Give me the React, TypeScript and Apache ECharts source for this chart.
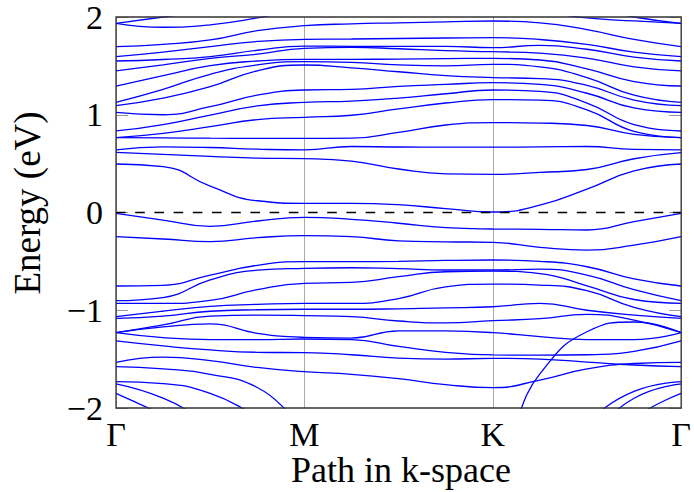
import React, { useEffect, useRef } from "react";
import * as echarts from "echarts";

// k-path sample positions (Γ=0, M=1, K=2, Γ=3)
const kPath = [0, 0.25, 0.5, 0.75, 1, 1.25, 1.5, 1.75, 2, 2.25, 2.5, 2.75, 3];
const kLabels = ["Γ", "M", "K", "Γ"];
const energyTicks = [-2, -1, 0, 1, 2];

// conduction-side bands (eV)
const bandU01 = [1.935, 2.0, 2.06, 2.15, 2.2, 2.25, 2.3, 2.3, 2.25, 2.2, 2.1, 2.0, 1.935];
const bandU02 = [1.935, 1.895, 1.92, 1.99, 2.08, 2.1, 2.15, 2.15, 2.15, 2.06, 1.99, 1.96, 1.935];
const bandU03 = [1.697, 1.72, 1.765, 1.86, 1.911, 1.93, 1.94, 1.95, 1.959, 1.94, 1.87, 1.77, 1.697];
const bandU04 = [1.594, 1.64, 1.697, 1.75, 1.772, 1.775, 1.78, 1.785, 1.788, 1.77, 1.72, 1.64, 1.594];
const bandU05 = [1.55, 1.565, 1.594, 1.66, 1.703, 1.7, 1.7, 1.7, 1.686, 1.71, 1.67, 1.59, 1.55];
const bandU06 = [1.448, 1.51, 1.577, 1.62, 1.68, 1.69, 1.675, 1.655, 1.645, 1.63, 1.58, 1.49, 1.448];
const bandU07 = [1.294, 1.4, 1.502, 1.55, 1.567, 1.567, 1.57, 1.575, 1.577, 1.56, 1.47, 1.34, 1.294];
const bandU08 = [1.127, 1.26, 1.414, 1.51, 1.543, 1.535, 1.51, 1.5, 1.516, 1.49, 1.38, 1.2, 1.127];
const bandU09 = [1.093, 1.17, 1.287, 1.45, 1.509, 1.48, 1.44, 1.4, 1.38, 1.37, 1.3, 1.15, 1.093];
const bandU10 = [1.025, 1.0, 1.083, 1.2, 1.253, 1.26, 1.29, 1.31, 1.328, 1.31, 1.22, 1.07, 1.025];
const bandU11 = [0.834, 0.9, 0.997, 1.09, 1.127, 1.14, 1.17, 1.215, 1.253, 1.24, 1.12, 0.9, 0.834];
const bandU12 = [0.766, 0.81, 0.878, 0.95, 0.974, 0.995, 1.06, 1.12, 1.155, 1.15, 1.05, 0.83, 0.766];
const bandU13 = [0.766, 0.764, 0.76, 0.759, 0.759, 0.76, 0.82, 0.895, 0.92, 0.915, 0.89, 0.8, 0.766];
const bandU14 = [0.64, 0.672, 0.665, 0.648, 0.64, 0.675, 0.67, 0.668, 0.668, 0.672, 0.675, 0.645, 0.64];
const bandU15 = [0.616, 0.595, 0.575, 0.556, 0.551, 0.525, 0.445, 0.395, 0.39, 0.41, 0.44, 0.55, 0.612];
const bandC1 = [0.496, 0.47, 0.27, 0.12, 0.094, 0.094, 0.08, 0.04, 0.005, 0.075, 0.24, 0.425, 0.496];

// valence-side bands (eV)
const bandV1 = [-0.008, -0.077, -0.142, -0.087, -0.05, -0.07, -0.11, -0.155, -0.169, -0.172, -0.179, -0.094, -0.01];
const bandV2 = [-0.247, -0.271, -0.298, -0.258, -0.237, -0.247, -0.29, -0.3, -0.305, -0.356, -0.384, -0.333, -0.247];
const bandA01 = [-0.752, -0.745, -0.64, -0.54, -0.503, -0.503, -0.5, -0.49, -0.486, -0.5, -0.555, -0.68, -0.752];
const bandA02 = [-0.902, -0.87, -0.69, -0.59, -0.571, -0.565, -0.575, -0.588, -0.588, -0.58, -0.64, -0.79, -0.902];
const bandA03 = [-0.929, -0.93, -0.9, -0.79, -0.725, -0.715, -0.657, -0.606, -0.6, -0.625, -0.75, -0.89, -0.929];
const bandA04 = [-1.065, -1.01, -0.96, -0.94, -0.929, -0.93, -0.88, -0.76, -0.732, -0.742, -0.8, -0.97, -1.065];
const bandA05 = [-1.083, -1.06, -1.01, -0.995, -0.99, -0.99, -0.985, -0.975, -0.964, -0.929, -1.0, -1.05, -1.083];
const bandA06 = [-1.229, -1.15, -1.06, -1.05, -1.055, -1.066, -1.11, -1.13, -1.107, -1.086, -1.042, -1.1, -1.229];
const bandA07 = [-1.229, -1.17, -1.14, -1.236, -1.277, -1.285, -1.21, -1.212, -1.229, -1.27, -1.3, -1.3, -1.229];
const bandA08 = [-1.229, -1.28, -1.3, -1.3, -1.294, -1.3, -1.37, -1.43, -1.457, -1.46, -1.455, -1.42, -1.314];
const bandA09 = [-1.314, -1.365, -1.406, -1.43, -1.434, -1.455, -1.49, -1.5, -1.492, -1.5, -1.53, -1.56, -1.577];
const bandA10 = [-1.533, -1.48, -1.515, -1.585, -1.628, -1.655, -1.7, -1.76, -1.792, -1.714, -1.6, -1.545, -1.533];
const bandA11 = [-1.577, -1.6, -1.655, -1.79, -2.15, -2.3, -2.4, -2.45, -2.4, -1.65, -1.22, -1.12, -1.229];
const bandA12 = [-1.73, -1.75, -1.85, -2.08, -2.3, -2.35, -2.4, -2.45, -2.55, -2.4, -2.12, -1.83, -1.73];
const bandA13 = [-1.754, -1.9, -2.15, -2.35, -2.45, -2.5, -2.55, -2.6, -2.7, -2.55, -2.3, -1.9, -1.754];
const bandA14 = [-1.85, -2.07, -2.3, -2.45, -2.5, -2.55, -2.6, -2.7, -2.8, -2.7, -2.5, -2.1, -1.85];

const bands = [
  bandU01, bandU02, bandU03, bandU04, bandU05, bandU06, bandU07, bandU08,
  bandU09, bandU10, bandU11, bandU12, bandU13, bandU14, bandU15, bandC1,
  bandV1, bandV2, bandA01, bandA02, bandA03, bandA04, bandA05, bandA06,
  bandA07, bandA08, bandA09, bandA10, bandA11, bandA12, bandA13, bandA14,
];

const FONT = "Liberation Serif";
const FS = 34;

export default function App() {
  const ref = useRef<HTMLDivElement>(null);

  useEffect(() => {
    if (!ref.current) return;
    const chart = echarts.init(ref.current, null, { renderer: "svg" });

    const series: any[] = bands.map((b) => ({
      type: "line",
      data: kPath.map((k, i) => [k, b[i]]),
      smooth: 0.5,
      showSymbol: false,
      symbol: "none",
      silent: true,
      clip: true,
      lineStyle: { color: "#0000ff", width: 1.3 },
      z: 2,
    }));
    series.push({
      type: "line",
      data: [
        [0, 0],
        [3, 0],
      ],
      symbol: "none",
      silent: true,
      lineStyle: { color: "#000", width: 1.3, type: [9.6, 9.6] },
      z: 3,
    });

    const fmtE = (v: number) => (v < 0 ? "\u2212" + Math.abs(v) : String(v));

    chart.setOption({
      animation: false,
      grid: {
        left: 116,
        top: 17,
        width: 570,
        height: 391,
        show: true,
        borderColor: "#333",
        borderWidth: 1.3,
        backgroundColor: "transparent",
        z: 5,
      },
      xAxis: {
        type: "value",
        min: 0,
        max: 3,
        interval: 1,
        axisLine: { show: false },
        axisTick: { show: false },
        splitLine: { show: true, lineStyle: { color: "#aaaaaa", width: 1 } },
        axisLabel: {
          formatter: (v: number) => kLabels[Math.round(v)],
          fontFamily: FONT,
          fontSize: FS,
          color: "#000",
          margin: 9,
          showMinLabel: true,
          showMaxLabel: true,
        },
      },
      yAxis: [
        {
          type: "value",
          min: energyTicks[0],
          max: energyTicks[energyTicks.length - 1],
          interval: 1,
          axisLine: { show: false },
          axisTick: { show: true, inside: true, length: 12, lineStyle: { color: "#999" } },
          splitLine: { show: false },
          axisLabel: {
            formatter: fmtE,
            fontFamily: FONT,
            fontSize: FS,
            color: "#000",
            margin: 13,
          },
        },
        {
          type: "value",
          position: "right",
          min: energyTicks[0],
          max: energyTicks[energyTicks.length - 1],
          interval: 1,
          axisLine: { show: false },
          axisTick: { show: true, inside: true, length: 12, lineStyle: { color: "#999" } },
          splitLine: { show: false },
          axisLabel: { show: false },
        },
      ],
      graphic: [
        {
          type: "text",
          x: 401,
          y: 470,
          style: {
            text: "Path in k-space",
            fontFamily: FONT,
            fontSize: 36,
            fill: "#000",
            textAlign: "center",
            textVerticalAlign: "middle",
          },
        },
        {
          type: "text",
          x: 27,
          y: 203,
          rotation: Math.PI / 2,
          style: {
            text: "Energy (eV)",
            fontFamily: FONT,
            fontSize: 37,
            fill: "#000",
            textAlign: "center",
            textVerticalAlign: "middle",
          },
        },
      ],
      series,
    });

    return () => chart.dispose();
  }, []);

  return (
    <div
      ref={ref}
      style={{ position: "absolute", left: 0, top: 0, width: 694, height: 492 }}
    />
  );
}
